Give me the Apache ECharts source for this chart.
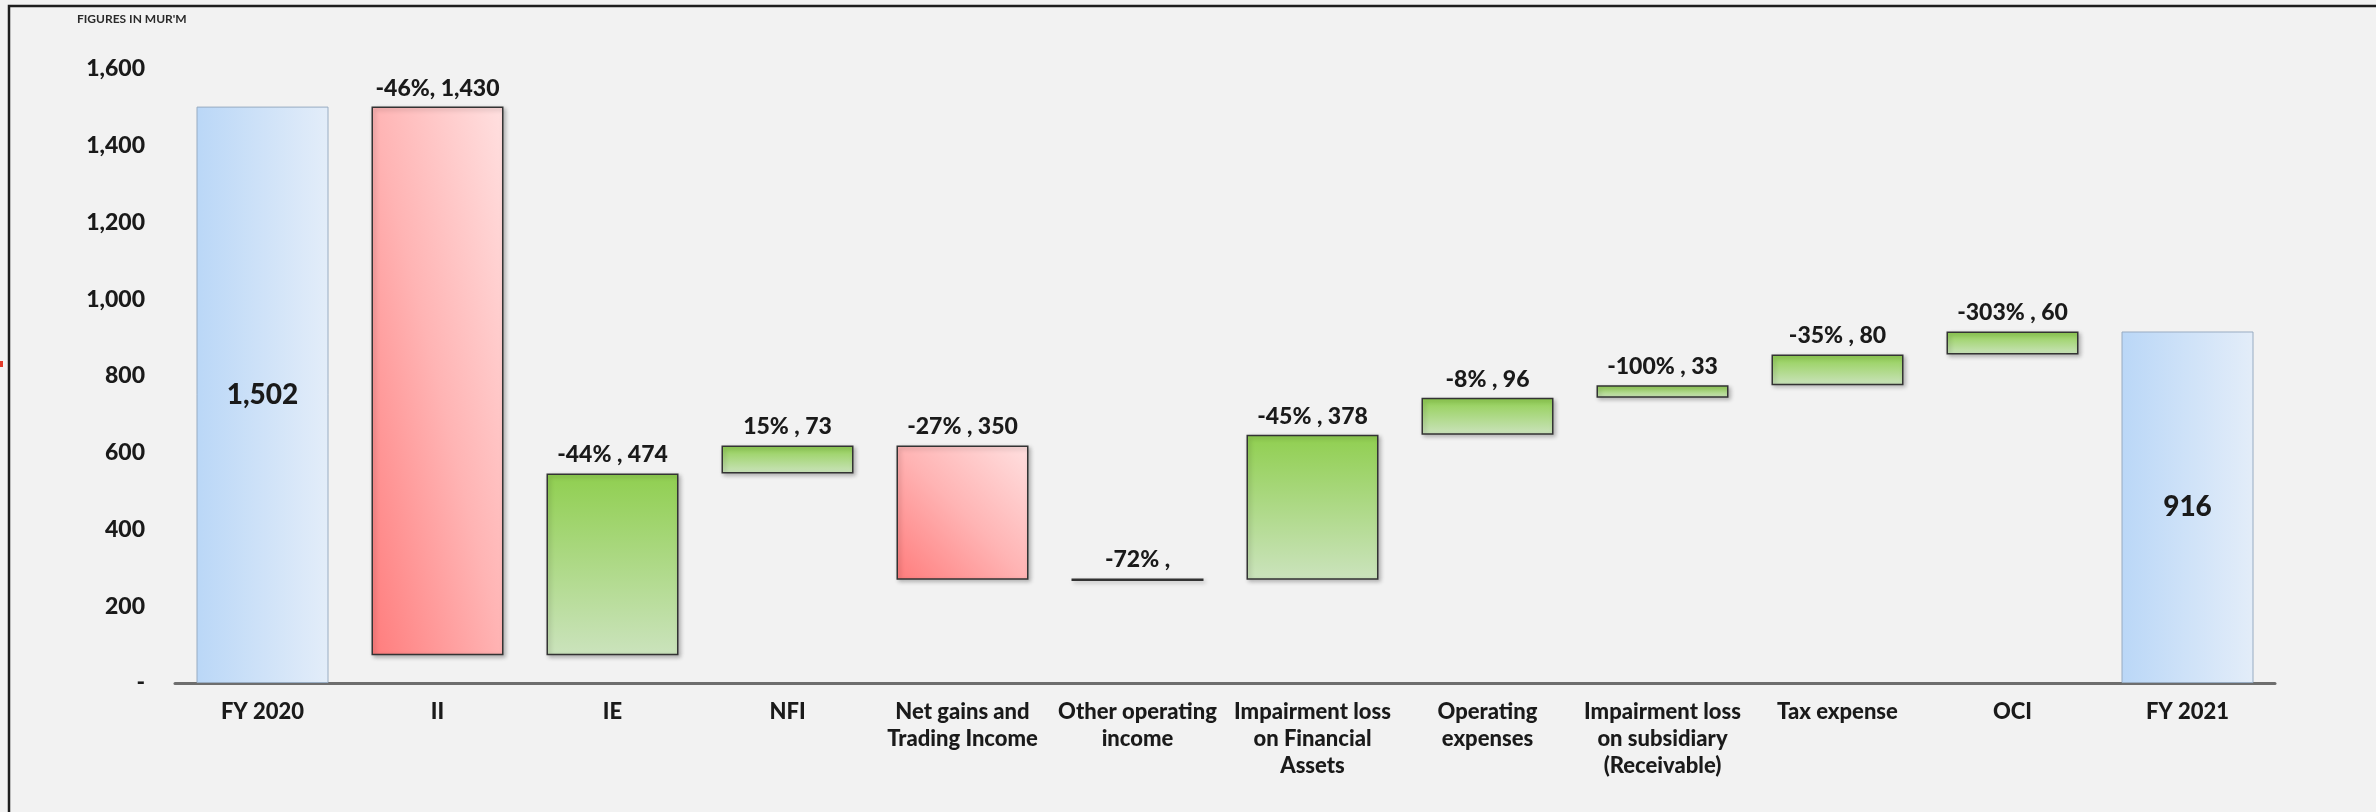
<!DOCTYPE html>
<html>
<head>
<meta charset="utf-8">
<title>Profit bridge FY 2020 to FY 2021</title>
<script src="https://cdn.jsdelivr.net/npm/echarts@6/dist/echarts.min.js"></script>
<style>
  html, body { margin: 0; padding: 0; background: #f2f2f2; }
  #chart { width: 2376px; height: 812px; }
</style>
</head>
<body>
<div id="chart"></div>
<script>
// Bridge categories (line breaks as shown under the axis)
const categories = [
  'FY 2020', 'II', 'IE', 'NFI', 'Net gains and\nTrading Income',
  'Other operating\nincome', 'Impairment loss\non Financial\nAssets',
  'Operating\nexpenses', 'Impairment loss\non subsidiary\n(Receivable)',
  'Tax expense', 'OCI', 'FY 2021'
];

// Size of each step, in MUR'M
const amounts = [1502, 1430, 474, 73, 350, 0, 378, 96, 33, 80, 60, 916];

// total = opening/closing bar, down = reduces profit, up = adds to profit
const kinds = ['total', 'down', 'up', 'up', 'down', 'up', 'up', 'up', 'up', 'up', 'up', 'total'];

// Year-on-year change shown in front of each step value
const changeLabels = ['', '-46%,', '-44% ,', '15% ,', '-27% ,', '-72% ,', '-45% ,',
  '-8% ,', '-100% ,', '-35% ,', '-303% ,', ''];

// Value axis ticks
const yMin = 0, yMax = 1600, yStep = 200;

const fmt = v => v === 0 ? '' : v.toLocaleString('en-US');

// Invisible base under each floating step, accumulated along the bridge
const bases = [];
let running = 0;
amounts.forEach((a, i) => {
  if (kinds[i] === 'total') { bases.push(0); running = a; }
  else if (kinds[i] === 'up') { bases.push(running); running += a; }
  else { running -= a; bases.push(running); }
});

const FONT = 'Lato, "DejaVu Sans", sans-serif';
const GRID = { left: 175, right: 101, top: 69, bottom: 129 };
const BAR_W = 132;
const plotH = 812 - GRID.top - GRID.bottom;

// Diagonal fill whose colour bands run corner to corner, so a tall bar
// shades mostly left-to-right and a square one bottom-left to top-right.
function diagonalFill(amount, stops) {
  const w = BAR_W, h = Math.max(1, amount / (yMax - yMin) * plotH);
  const fx = h * h / (h * h + w * w), fy = w * w / (h * h + w * w);
  return new echarts.graphic.LinearGradient(0.5 - fx, 0.5 + fy, 0.5 + fx, 0.5 - fy, stops);
}

const redStops = [
  { offset: 0, color: '#ff7c7c' }, { offset: 0.5, color: '#ffb4b4' }, { offset: 1, color: '#ffe0e0' }
];
const totalFill = new echarts.graphic.LinearGradient(0, 0, 1, 0, [
  { offset: 0, color: '#bad7f7' }, { offset: 1, color: '#e3edf9' }
]);
const upFill = new echarts.graphic.LinearGradient(0, 0, 0, 1, [
  { offset: 0, color: '#90cf50' }, { offset: 1, color: '#cbe3bd' }
]);

const stepData = amounts.map((a, i) => {
  const k = kinds[i];
  if (k === 'total') {
    return {
      value: a,
      itemStyle: { color: totalFill, borderColor: '#98acc2', borderWidth: 1 },
      label: {
        show: true, position: 'inside', formatter: () => fmt(a),
        fontSize: 28, fontWeight: 900, color: '#1a1a1a', fontFamily: FONT
      }
    };
  }
  return {
    value: a,
    itemStyle: {
      color: k === 'down' ? diagonalFill(a, redStops) : upFill,
      borderColor: '#333', borderWidth: a === 0 ? 2.5 : 1.5,
      shadowColor: 'rgba(0,0,0,0.25)', shadowBlur: 4, shadowOffsetX: 2, shadowOffsetY: 2
    },
    label: {
      show: true, position: 'top', distance: 7,
      formatter: () => (changeLabels[i] + ' ' + fmt(a)).trim(),
      fontSize: 23, fontWeight: 900, color: '#1a1a1a', fontFamily: FONT
    }
  };
});

const chart = echarts.init(document.getElementById('chart'), null, { renderer: 'canvas' });

chart.setOption({
  backgroundColor: '#f2f2f2',
  animation: false,
  grid: GRID,
  xAxis: {
    type: 'category',
    data: categories,
    axisLine: { lineStyle: { color: '#6e6e6e', width: 3 } },
    axisTick: { show: false },
    axisLabel: {
      interval: 0, margin: 15, fontSize: 22, fontWeight: 900, lineHeight: 27,
      color: '#1a1a1a', fontFamily: FONT
    }
  },
  yAxis: {
    type: 'value',
    min: yMin, max: yMax, interval: yStep,
    splitLine: { show: false },
    axisLine: { show: false },
    axisTick: { show: false },
    axisLabel: {
      margin: 30, fontSize: 23, fontWeight: 900, color: '#1a1a1a', fontFamily: FONT,
      formatter: v => v === 0 ? '-' : v.toLocaleString('en-US')
    }
  },
  series: [
    {
      name: 'base', type: 'bar', stack: 'bridge', barWidth: BAR_W,
      data: bases,
      itemStyle: { color: 'transparent' },
      emphasis: { disabled: true },
      silent: true
    },
    {
      name: 'step', type: 'bar', stack: 'bridge', barWidth: BAR_W,
      data: stepData
    }
  ],
  graphic: [
    {
      type: 'polyline', silent: true,
      shape: { points: [[9, 812], [9, 6], [2376, 6]] },
      style: { stroke: '#1e1e1e', lineWidth: 2.5, fill: null }
    },
    {
      type: 'rect', silent: true,
      shape: { x: 0, y: 361, width: 3, height: 6 },
      style: { fill: '#e23a2a' }
    },
    {
      type: 'text', left: 77, top: 13, silent: true,
      style: {
        text: "FIGURES IN MUR'M", fontSize: 12, fontWeight: 'bold',
        fill: '#2a2a2a', fontFamily: FONT
      }
    }
  ]
});
</script>
</body>
</html>
